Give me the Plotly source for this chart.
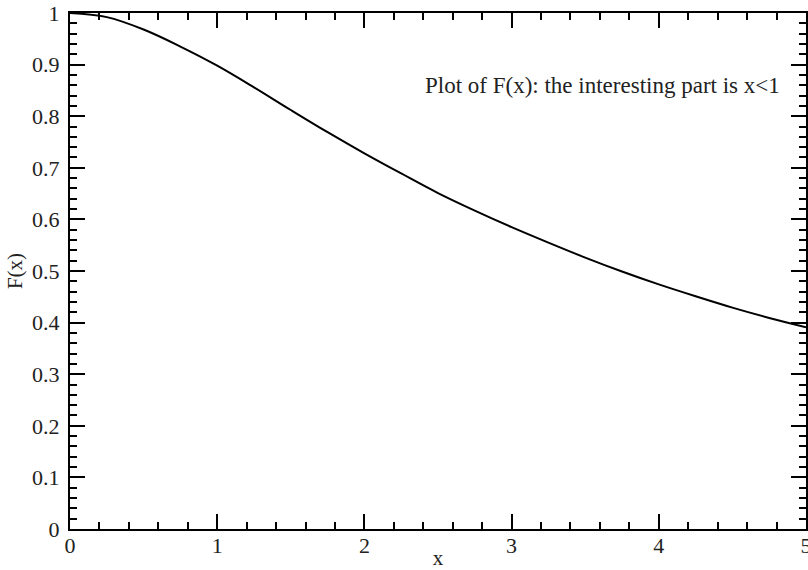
import plotly.graph_objects as go

x_vals = [0.0, 0.25, 0.5, 0.75, 1.0, 1.25, 1.5, 1.75, 2.0, 2.25, 2.5,
          2.75, 3.0, 3.25, 3.5, 3.75, 4.0, 4.25, 4.5, 4.75, 5.0]
f_vals = [1.000, 0.992, 0.968, 0.935, 0.898, 0.856, 0.812, 0.769, 0.728,
          0.689, 0.651, 0.617, 0.585, 0.555, 0.526, 0.499, 0.474, 0.451,
          0.429, 0.409, 0.391]

x_ticks = [0, 1, 2, 3, 4, 5]
y_ticks = [0, 0.1, 0.2, 0.3, 0.4, 0.5, 0.6, 0.7, 0.8, 0.9, 1]
y_tick_labels = ["0", "0.1", "0.2", "0.3", "0.4", "0.5", "0.6", "0.7", "0.8", "0.9", "1"]

annotation_text = "Plot of F(x): the interesting part is x<1"

FONT = "Liberation Serif"
TXT = "#222"

fig = go.Figure()
fig.add_trace(go.Scatter(x=x_vals, y=f_vals, mode="lines",
                         line=dict(color="black", width=2, shape="spline", smoothing=1.0),
                         showlegend=False, hoverinfo="skip"))

axis_common = dict(
    showgrid=False, zeroline=False, showline=True, linecolor="black",
    linewidth=2, mirror="allticks", ticks="inside", ticklen=15,
    tickwidth=1.5, tickcolor="black", ticklabeloverflow="allow",
    automargin=False,
    tickfont=dict(family=FONT, size=22, color=TXT),
)

fig.update_xaxes(range=[0, 5], tickvals=x_ticks, ticktext=[str(v) for v in x_ticks],
                 minor=dict(ticks="inside", ticklen=7, tickwidth=1.5,
                            tickcolor="black", dtick=0.2, tick0=0, showgrid=False),
                 title=dict(text="x", font=dict(family=FONT, size=21, color=TXT),
                            standoff=0),
                 ticklabelstandoff=-4,
                 **axis_common)
fig.update_yaxes(range=[0, 1], tickvals=y_ticks, ticktext=y_tick_labels,
                 minor=dict(ticks="inside", ticklen=7, tickwidth=1.5,
                            tickcolor="black", dtick=0.02, tick0=0, showgrid=False),
                 title=dict(text="F(x)", font=dict(family=FONT, size=21, color=TXT),
                            standoff=4),
                 ticklabelstandoff=4,
                 **axis_common)

fig.add_annotation(x=3.615, y=0.859, xref="x", yref="y", text=annotation_text,
                   showarrow=False, xanchor="center", yanchor="middle",
                   font=dict(family=FONT, size=23, color=TXT))

fig.update_layout(
    width=808, height=570,
    margin=dict(l=70, r=2, t=13, b=41, autoexpand=False),
    paper_bgcolor="white", plot_bgcolor="white",
)

fig.write_html("out.html")
